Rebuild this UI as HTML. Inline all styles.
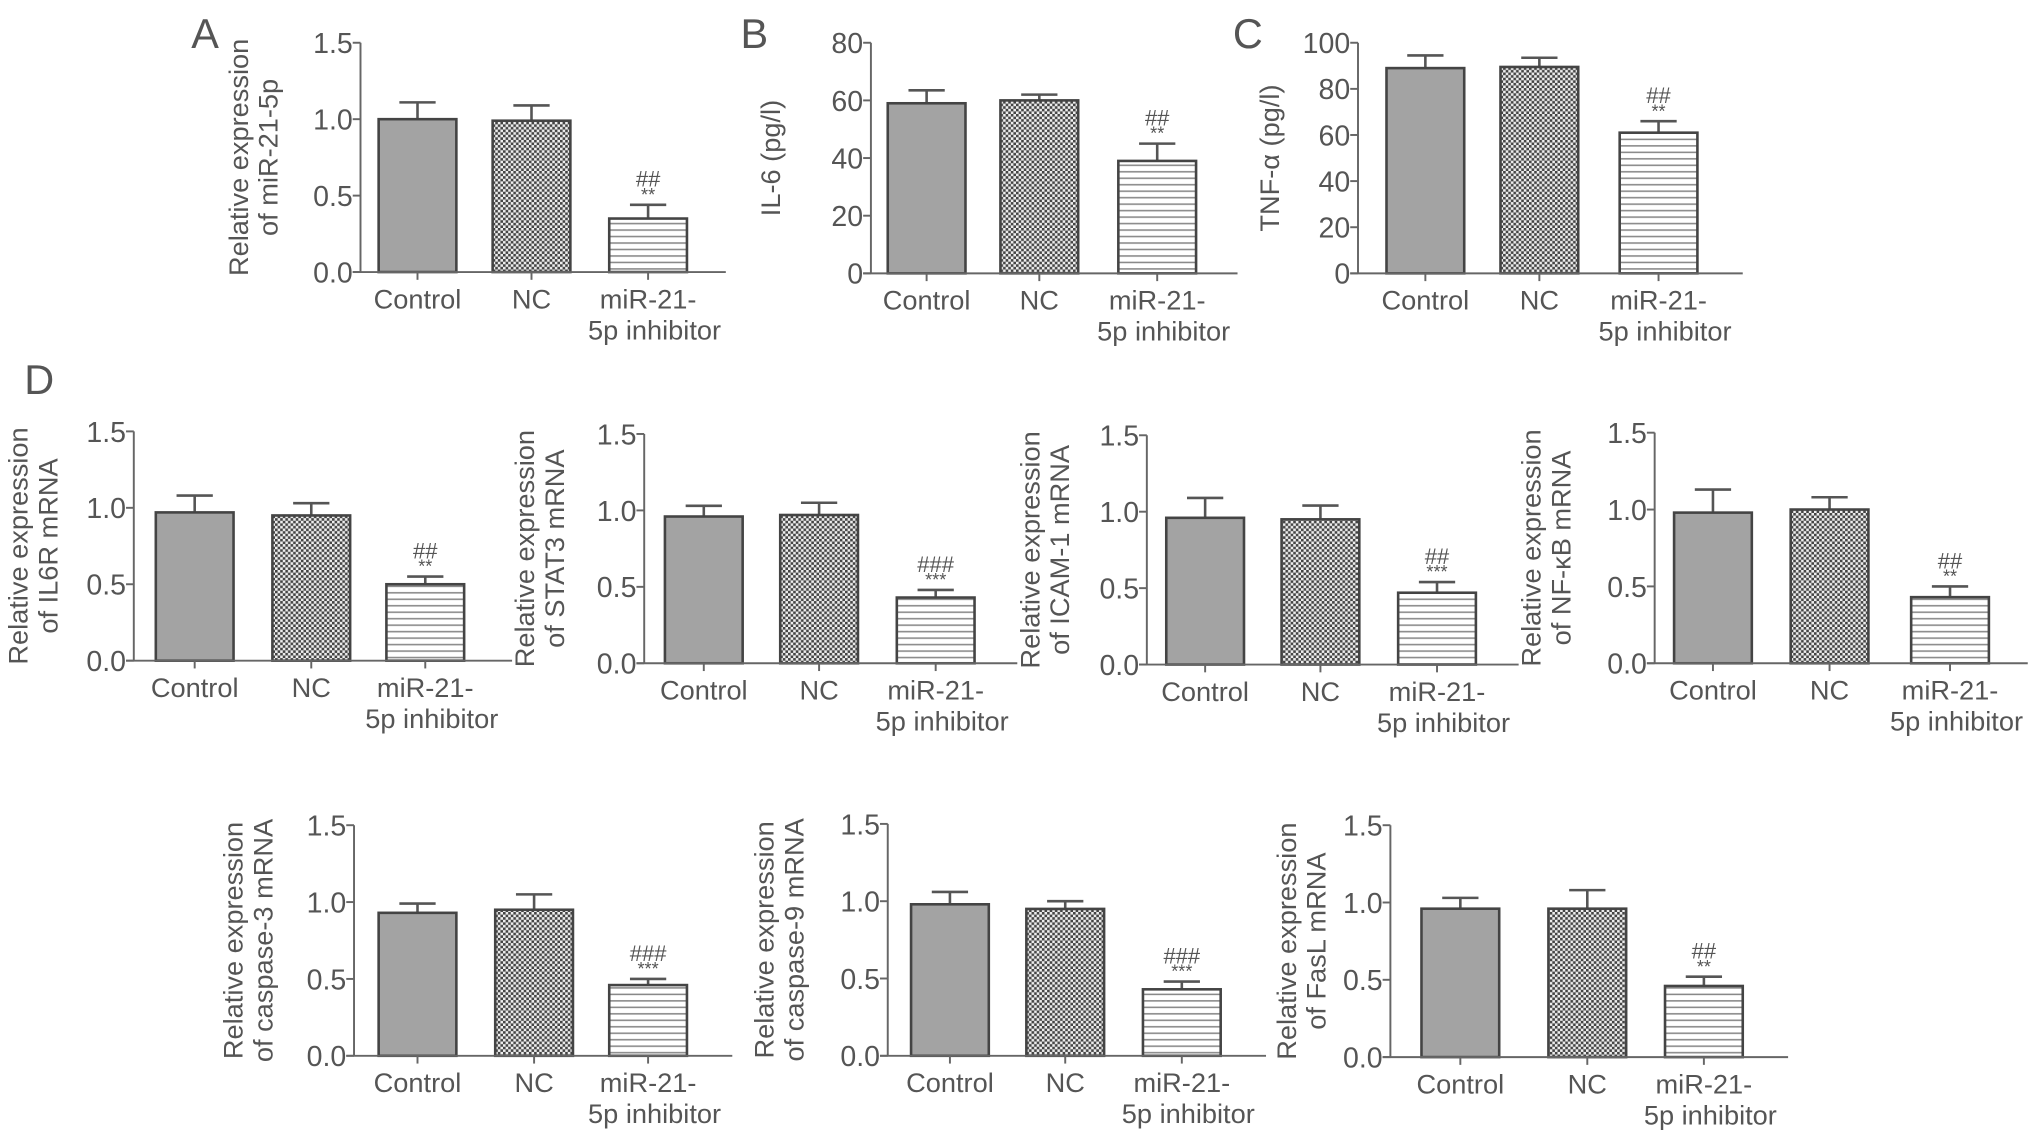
<!DOCTYPE html>
<html><head><meta charset="utf-8"><style>
html,body{margin:0;padding:0;background:#fff;}
svg{display:block;}
text{font-family:"Liberation Sans","DejaVu Sans",sans-serif;fill:#555;}
</style></head><body>
<svg id="fig" width="2032" height="1140" viewBox="0 0 1568 880" xmlns="http://www.w3.org/2000/svg">
<defs>
<pattern id="pCheck" width="4" height="4" patternUnits="userSpaceOnUse"><rect width="4" height="4" fill="#eee"/><rect width="2" height="2" fill="#444"/><rect x="2" y="2" width="2" height="2" fill="#444"/></pattern>
<pattern id="pLines" width="6" height="5" patternUnits="userSpaceOnUse"><rect width="6" height="5" fill="#fff"/><rect y="2" width="6" height="1.2" fill="#888"/></pattern>
</defs>
<g id="root"></g>
</svg>
<script>
const categories = ["Control", "NC", "miR-21-5p inhibitor"];
const panelTitles = ["A","B","C","","","","","","",""];
const yLabels = [["Relative expression","of miR-21-5p"],["IL-6 (pg/l)"],["TNF-\u03B1 (pg/l)"],["Relative expression","of IL6R mRNA"],["Relative expression","of STAT3 mRNA"],["Relative expression","of ICAM-1 mRNA"],["Relative expression","of NF-\u03BAB mRNA"],["Relative expression","of caspase-3 mRNA"],["Relative expression","of caspase-9 mRNA"],["Relative expression","of FasL mRNA"]];
const yMax = [1.5,80,100,1.5,1.5,1.5,1.5,1.5,1.5,1.5];
const yStep = [0.5,20,20,0.5,0.5,0.5,0.5,0.5,0.5,0.5];
const meanValues = [[1.0,0.99,0.35],[59,60,39],[89,89.5,61],[0.97,0.95,0.50],[0.96,0.97,0.43],[0.96,0.95,0.47],[0.98,1.0,0.43],[0.93,0.95,0.46],[0.98,0.95,0.43],[0.96,0.96,0.46]];
const errorTops = [[1.11,1.09,0.44],[63.5,62,45],[94.5,93.5,66],[1.08,1.03,0.55],[1.03,1.05,0.48],[1.09,1.04,0.54],[1.13,1.08,0.50],[0.99,1.05,0.50],[1.06,1.00,0.48],[1.03,1.08,0.52]];
const hashMarks = ["##","##","##","##","###","##","##","###","###","##"];
const starMarks = ["**","**","**","**","***","***","**","***","***","**"];

// layout (not data)
const layout = [
 {ax:278,y0:210,yt:33,end:560,cx:[322,410,500],lx:[184,207]},
 {ax:672,y0:211,yt:33,end:955,cx:[715,802,893],lx:[595]},
 {ax:1048,y0:211,yt:33,end:1345,cx:[1100,1188,1280],lx:[980]},
 {ax:103,y0:510,yt:333,end:395,cx:[150,240,328],lx:[14,37]},
 {ax:497,y0:512,yt:335,end:785,cx:[543,632,722],lx:[405,428]},
 {ax:885,y0:513,yt:336,end:1172,cx:[930,1019,1109],lx:[795,818]},
 {ax:1277,y0:512,yt:334,end:1565,cx:[1322,1412,1505],lx:[1182,1205]},
 {ax:273,y0:815,yt:637,end:565,cx:[322,412,500],lx:[180,203]},
 {ax:685,y0:815,yt:636,end:977,cx:[733,822,912],lx:[590,613]},
 {ax:1073,y0:816,yt:637,end:1380,cx:[1127,1225,1315],lx:[993,1016]}
];
const titlePos=[[158,25],[582,25],[963,25]];
const fills=["#a3a3a3","url(#pCheck)","url(#pLines)"];
const NS="http://www.w3.org/2000/svg";
const root=document.getElementById('root');
function mk(tag,attrs,parent){const e=document.createElementNS(NS,tag);for(const k in attrs)e.setAttribute(k,attrs[k]);(parent||root).appendChild(e);return e;}
function txt(s,attrs,parent){const t=mk('text',attrs,parent);t.textContent=s;return t;}

panelTitles.forEach((t,i)=>{if(!t)return;const el=txt(t,{x:titlePos[i][0],y:titlePos[i][1]+12,'font-size':32,'text-anchor':'middle'});

});
{const el=txt("D",{x:30,y:304,'font-size':32,'text-anchor':'middle'});

}

layout.forEach((L,p)=>{
 const g=mk('g',{});
 
 
 const ys=v=>L.y0-(v/yMax[p])*(L.y0-L.yt);
 const bw=60;
 meanValues[p].forEach((v,j)=>{
  const x=L.cx[j]-bw/2,top=ys(v),et=ys(errorTops[p][j]);
  const ln=mk('line',{x1:L.cx[j],x2:L.cx[j],y1:top,y2:et,stroke:'#555','stroke-width':2},g);
  
  
  mk('line',{x1:L.cx[j]-14,x2:L.cx[j]+14,y1:et,y2:et,stroke:'#555','stroke-width':2},g);
  const r=mk('rect',{x:x,y:top,width:bw,height:L.y0-top,fill:fills[j],stroke:'#444','stroke-width':2},g);
  
  
 });
 const et=ys(errorTops[p][2]);
 const s=txt(starMarks[p],{x:L.cx[2],y:et-3,'font-size':14,'text-anchor':'middle'},g);
 
 
 const h=txt(hashMarks[p],{x:L.cx[2],y:et-14,'font-size':17,'text-anchor':'middle'},g);
 
 
 const ya=mk('line',{x1:L.ax,x2:L.ax,y1:L.yt,y2:L.y0,stroke:'#666','stroke-width':1.5},g);
 
 
 const xa=mk('line',{x1:L.ax-6,x2:L.end,y1:L.y0,y2:L.y0,stroke:'#666','stroke-width':1.5},g);
 
 
 const dec=yStep[p]<1?1:0;
 for(let v=0;v<=yMax[p]+1e-9;v+=yStep[p]){
  const y=ys(v);
  mk('line',{x1:L.ax-6,x2:L.ax,y1:y,y2:y,stroke:'#666','stroke-width':1.5},g);
  const tl=txt(v.toFixed(dec),{x:L.ax-6,y:y+8,'font-size':22,'text-anchor':'end'},g);
  
  
 }
 categories.forEach((c,j)=>{
  mk('line',{x1:L.cx[j],x2:L.cx[j],y1:L.y0,y2:L.y0+6,stroke:'#666','stroke-width':1.5},g);
  let t;
  if(j===2){
   t=txt('',{x:L.cx[j],y:L.y0+28,'font-size':21,'text-anchor':'middle'},g);
   const a=mk('tspan',{x:L.cx[j]},t);a.textContent='miR-21-';
   const b=mk('tspan',{x:L.cx[j]+5,dy:24},t);b.textContent='5p inhibitor';
  } else t=txt(c,{x:L.cx[j],y:L.y0+28,'font-size':21,'text-anchor':'middle'},g);
  
  
 });
 const cy=(L.y0+L.yt)/2;
 yLabels[p].forEach((s,k)=>{
  const x=L.lx[k]+7;
  const t=txt(s,{x:x,y:cy,'font-size':21,'text-anchor':'middle',transform:'rotate(-90 '+x+' '+cy+')'},g);
  
  
 });
});
</script>
</body></html>
